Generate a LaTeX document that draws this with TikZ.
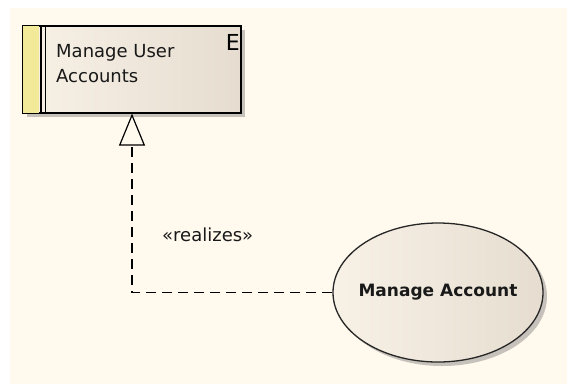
\documentclass[tikz,border=0pt]{standalone}
\usepackage{fontspec}
\setmainfont{DejaVu Sans}
\usetikzlibrary{arrows.meta,shadows,calc,shapes.geometric}
\definecolor{bgcream}{HTML}{FFF9EE}
\definecolor{boxleft}{HTML}{F8F1E6}
\definecolor{boxright}{HTML}{E6DDD0}
\definecolor{stripyellow}{HTML}{F2EA98}
\definecolor{shadowgray}{HTML}{B8B4AE}
\tikzset{
  elemshadow/.style={drop shadow={shadow xshift=4pt,shadow yshift=-4pt,fill=shadowgray,opacity=0.8}},
  elembox/.style={draw=black,line width=1.2pt,minimum width=218pt,minimum height=87pt,inner sep=0pt,
    left color=boxleft,right color=boxright,elemshadow},
  usecase/.style={ellipse,draw=black!85,line width=1.3pt,minimum width=210pt,minimum height=139pt,inner sep=0pt,
    left color=boxleft,right color=boxright,elemshadow},
  realizeline/.style={dash pattern=on 10pt off 6pt,line width=1.3pt,
    -{Triangle[open,length=32pt,width=26pt,line width=1.2pt]}},
  txt/.style={inner sep=0pt,font=\fontsize{18}{25}\selectfont,text=black!90}
}
\begin{document}
\begin{tikzpicture}[x=1pt,y=-1pt]
\useasboundingbox (0,0) rectangle (567,384);
\fill[bgcream] (10,8) rectangle (567,384);
% element box
\node[elembox] (box) at (132,69.5) {};
\fill[stripyellow] (box.north west) rectangle ($(box.south west)+(17,0)$);
\draw[line width=2.6pt] ($(box.north west)+(18.5,0)$) -- ($(box.south west)+(18.5,0)$);
\draw[line width=1.6pt] ($(box.north west)+(23,0)$) -- ($(box.south west)+(23,0)$);
\draw[line width=1.2pt] (box.north west) rectangle (box.south east);
\node[txt,anchor=base west,align=left] (boxtext) at (56,82) {Manage User\\Accounts};
\node[inner sep=0pt,anchor=base east,font=\fontsize{22}{22}\selectfont] (etag) at (240,50) {E};
% use case
\node[usecase] (ma) at (438,292.5) {};
\node[inner sep=0pt,font=\bfseries\fontsize{17}{20}\selectfont,text=black!90] (matext) at (ma.center) {Manage Account};
% realization
\draw[realizeline] (ma.west) -| (box.south);
\node[txt,anchor=base west] (rlabel) at (162,241) {«realizes»};
\end{tikzpicture}
\end{document}
